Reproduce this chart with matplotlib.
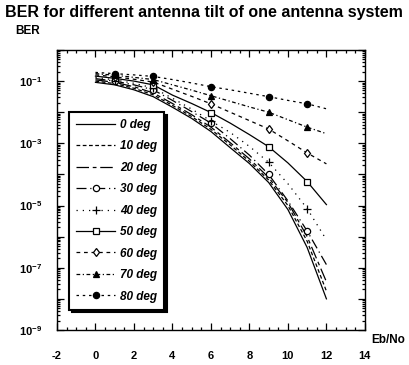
import numpy as np
import matplotlib
matplotlib.use('Agg')
import matplotlib.pyplot as plt
from matplotlib.ticker import MultipleLocator, LogLocator, FixedLocator, NullFormatter

plt.rcParams['font.family'] = ['Liberation Sans', 'DejaVu Sans']
plt.rcParams['mathtext.default'] = 'regular'
plt.rcParams['axes.unicode_minus'] = False

# Eb/No points
ebno = [0, 1, 2, 3, 4, 5, 6, 7, 8, 9, 10, 11, 12]

# BER read as -log10(BER), one list per tilt
exp_0 = [1.04, 1.12, 1.28, 1.50, 1.84, 2.20, 2.62, 3.14, 3.65, 4.26, 5.13, 6.35, 8.00]
exp_10 = [1.00, 1.08, 1.23, 1.44, 1.78, 2.14, 2.55, 3.05, 3.58, 4.18, 5.00, 6.15, 7.75]
exp_20 = [0.96, 1.04, 1.18, 1.38, 1.72, 2.08, 2.48, 2.98, 3.50, 4.10, 4.90, 6.00, 7.45]
exp_30 = [0.92, 1.00, 1.12, 1.28, 1.62, 1.98, 2.35, 2.85, 3.38, 4.00, 4.85, 5.82, 6.90]
exp_40 = [0.88, 0.96, 1.07, 1.22, 1.55, 1.90, 2.28, 2.65, 3.10, 3.61, 4.30, 5.10, 6.10]
exp_50 = [0.84, 0.91, 1.00, 1.12, 1.45, 1.72, 2.01, 2.35, 2.72, 3.11, 3.63, 4.23, 4.97]
exp_60 = [0.80, 0.86, 0.94, 1.03, 1.26, 1.49, 1.73, 2.00, 2.27, 2.54, 2.92, 3.31, 3.66]
exp_70 = [0.76, 0.81, 0.88, 0.95, 1.12, 1.29, 1.47, 1.65, 1.83, 2.00, 2.24, 2.48, 2.69]
exp_80 = [0.72, 0.76, 0.80, 0.85, 0.95, 1.06, 1.18, 1.28, 1.39, 1.50, 1.62, 1.73, 1.89]

labels = ['0 deg', '10 deg', '20 deg', '30 deg', '40 deg',
          '50 deg', '60 deg', '70 deg', '80 deg']
series = [exp_0, exp_10, exp_20, exp_30, exp_40, exp_50, exp_60, exp_70, exp_80]

# markers sit at Eb/No = 1, 3, 6, 9, 11
mark_idx = [1, 3, 6, 9, 11]

# line style, marker, marker face
styles = [
    ('-', None, 'none'),
    ((0, (3, 2)), None, 'none'),
    ((0, (10, 3, 3, 3)), None, 'none'),
    ((0, (8, 3, 1, 3)), 'o', 'white'),
    ((0, (1, 4)), '+', 'none'),
    ('-', 's', 'white'),
    ((0, (3, 3)), 'd', 'white'),
    ((0, (3, 2, 1, 2)), '^', 'black'),
    ((0, (2, 3)), 'o', 'black'),
]

fig = plt.figure(figsize=(4.1, 3.65), dpi=100)
ax = fig.add_axes([0.139, 0.096, 0.751, 0.767])

for e, lab, (ls, mk, fc) in zip(series, labels, styles):
    ber = np.power(10.0, -np.array(e))
    ax.plot(ebno, ber, color='black', lw=0.9, linestyle=ls, marker=mk,
            markersize=4.5 if mk != '+' else 6, markerfacecolor=fc,
            markeredgecolor='black', markeredgewidth=0.9,
            markevery=mark_idx, label=lab)

ax.set_yscale('log')
ax.set_xlim(-2, 14)
ax.set_ylim(1e-9, 1)

ax.xaxis.set_major_locator(MultipleLocator(2))
ax.xaxis.set_minor_locator(MultipleLocator(0.5))
ax.yaxis.set_major_locator(FixedLocator([10.0**-k for k in range(0, 10)]))
ax.yaxis.set_minor_locator(LogLocator(base=10, subs=np.arange(2, 10), numticks=20))
ax.yaxis.set_minor_formatter(NullFormatter())
ax.set_yticklabels(['' if k % 2 == 0 else '$10^{-%d}$' % k for k in range(0, 10)])

ax.tick_params(which='both', direction='in', top=True, right=True,
               labelsize=8, width=0.9)
ax.tick_params(which='major', length=5)
ax.tick_params(axis='x', which='major', pad=15)
ax.tick_params(axis='y', which='major', pad=11)
ax.tick_params(which='minor', length=2.5)
for t in ax.get_xticklabels() + ax.get_yticklabels():
    t.set_fontweight('bold')
for s in ax.spines.values():
    s.set_linewidth(1.0)

fig.text(0.012, 0.965, 'BER for different antenna tilt of one antenna system',
         fontsize=11.5, fontweight='bold', va='center', ha='left')
fig.text(0.037, 0.915, 'BER', fontsize=8.5, fontweight='bold', va='center')
fig.text(0.905, 0.068, 'Eb/No', fontsize=8.5, fontweight='bold', va='center')

leg = ax.legend(loc='upper left', bbox_to_anchor=(0.039, 0.779), borderaxespad=0,
                fancybox=False, edgecolor='black', framealpha=1,
                shadow={'color': 'black', 'alpha': 1},
                prop={'size': 8.5, 'weight': 'bold', 'style': 'italic'},
                handlelength=3.3, labelspacing=0.8, borderpad=0.6,
                handletextpad=0.4)
leg.get_frame().set_linewidth(1.5)

fig.savefig('out.png', dpi=100)
